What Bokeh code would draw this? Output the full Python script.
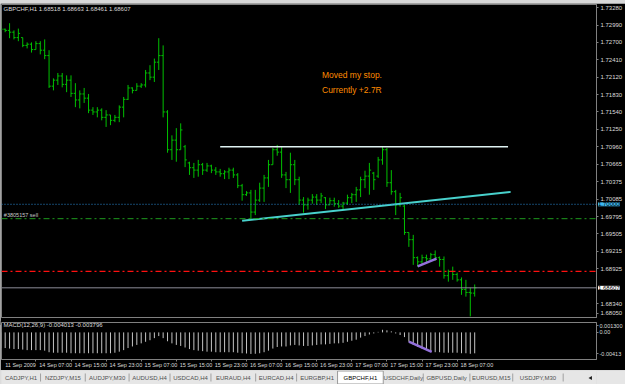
from bokeh.plotting import figure
from bokeh.models import Range1d, FixedTicker, NumeralTickFormatter, Span, Label, ColumnDataSource
from bokeh.layouts import column
from bokeh.embed import file_html
from bokeh.resources import INLINE
from bokeh.core.properties import value

# ---------------- data ----------------
symbol = "GBPCHF,H1"

opens = [1.7303, 1.7292, 1.7290, 1.7287, 1.7278, 1.7278, 1.7265, 1.7267, 1.7258, 1.7268,
         1.7257, 1.7248, 1.7197, 1.7207, 1.7214, 1.7200, 1.7207, 1.7185, 1.7174, 1.7184,
         1.7177, 1.7157, 1.7154, 1.7157, 1.7145, 1.7149, 1.7140, 1.7145, 1.7162, 1.7175,
         1.7194, 1.7190, 1.7197, 1.7199, 1.7219, 1.7212, 1.7237, 1.7248, 1.7154, 1.7091,
         1.7107, 1.7091, 1.7096, 1.7069, 1.7061, 1.7057, 1.7066, 1.7057, 1.7064, 1.7057,
         1.7054, 1.7051, 1.7054, 1.7057, 1.7049, 1.7031, 1.7016, 1.7019, 1.6987, 1.7007,
         1.7027, 1.7044, 1.7066, 1.7091, 1.7087, 1.7049, 1.7041, 1.7066, 1.7041, 1.7007,
         1.6999, 1.7007, 1.7012, 1.7007, 1.7011, 1.6999, 1.7006, 1.7001, 1.6997, 1.7002,
         1.7011, 1.7016, 1.7024, 1.7041, 1.7047, 1.7052, 1.7047, 1.7074, 1.7091, 1.7036,
         1.7021, 1.6999, 1.6997, 1.6953, 1.6941, 1.6911, 1.6904, 1.6911, 1.6909, 1.6916,
         1.6911, 1.6908, 1.6881, 1.6888, 1.6883, 1.6874, 1.6858, 1.6853, 1.68518]
highs = [1.7307, 1.7293, 1.7302, 1.7290, 1.7293, 1.7278, 1.7270, 1.7270, 1.7272, 1.7272,
         1.7275, 1.7257, 1.7210, 1.7219, 1.7219, 1.7215, 1.7215, 1.7202, 1.7190, 1.7194,
         1.7184, 1.7162, 1.7162, 1.7160, 1.7157, 1.7149, 1.7149, 1.7165, 1.7179, 1.7199,
         1.7195, 1.7202, 1.7202, 1.7224, 1.7232, 1.7243, 1.7277, 1.7265, 1.7157, 1.7115,
         1.7127, 1.7135, 1.7099, 1.7071, 1.7069, 1.7074, 1.7069, 1.7069, 1.7066, 1.7062,
         1.7059, 1.7057, 1.7061, 1.7061, 1.7052, 1.7034, 1.7022, 1.7024, 1.7024, 1.7036,
         1.7049, 1.7074, 1.7094, 1.7099, 1.7096, 1.7054, 1.7086, 1.7074, 1.7046, 1.7012,
         1.7011, 1.7017, 1.7017, 1.7019, 1.7012, 1.7011, 1.7011, 1.7007, 1.7004, 1.7016,
         1.7019, 1.7029, 1.7046, 1.7056, 1.7069, 1.7054, 1.7079, 1.7097, 1.7094, 1.7057,
         1.7024, 1.7019, 1.6999, 1.6953, 1.6949, 1.6913, 1.6916, 1.6916, 1.6919, 1.6923,
         1.6913, 1.6913, 1.6891, 1.6896, 1.6886, 1.6878, 1.6874, 1.6861, 1.68663]
lows = [1.7288, 1.7287, 1.7277, 1.7275, 1.7272, 1.7262, 1.7260, 1.7253, 1.7258, 1.7250,
        1.7242, 1.7194, 1.7190, 1.7199, 1.7195, 1.7187, 1.7179, 1.7162, 1.7160, 1.7169,
        1.7152, 1.7149, 1.7145, 1.7140, 1.7129, 1.7132, 1.7137, 1.7137, 1.7145, 1.7174,
        1.7185, 1.7190, 1.7194, 1.7195, 1.7207, 1.7204, 1.7224, 1.7145, 1.7086, 1.7074,
        1.7071, 1.7091, 1.7062, 1.7049, 1.7044, 1.7046, 1.7049, 1.7054, 1.7052, 1.7049,
        1.7046, 1.7042, 1.7042, 1.7044, 1.7027, 1.7006, 1.7014, 1.6974, 1.6982, 1.7004,
        1.7004, 1.7029, 1.7066, 1.7081, 1.7044, 1.7027, 1.7019, 1.7032, 1.6999, 1.6986,
        1.6991, 1.7001, 1.6999, 1.7002, 1.6992, 1.6999, 1.6996, 1.6994, 1.6991, 1.6999,
        1.7002, 1.7004, 1.7012, 1.7027, 1.7016, 1.7024, 1.7044, 1.7066, 1.7029, 1.7016,
        1.6982, 1.6996, 1.6949, 1.6929, 1.6899, 1.6896, 1.6899, 1.6903, 1.6904, 1.6906,
        1.6896, 1.6876, 1.6871, 1.6874, 1.6871, 1.6849, 1.6846, 1.6813, 1.68461]
closes = [1.7292, 1.7290, 1.7287, 1.7278, 1.7285, 1.7265, 1.7267, 1.7258, 1.7268, 1.7257,
          1.7248, 1.7197, 1.7207, 1.7214, 1.7200, 1.7207, 1.7185, 1.7174, 1.7184, 1.7177,
          1.7157, 1.7154, 1.7157, 1.7145, 1.7149, 1.7140, 1.7145, 1.7162, 1.7175, 1.7194,
          1.7190, 1.7197, 1.7199, 1.7219, 1.7212, 1.7237, 1.7248, 1.7154, 1.7091, 1.7107,
          1.7091, 1.7124, 1.7074, 1.7061, 1.7057, 1.7066, 1.7057, 1.7064, 1.7057, 1.7054,
          1.7051, 1.7054, 1.7057, 1.7049, 1.7031, 1.7016, 1.7019, 1.6987, 1.7007, 1.7027,
          1.7044, 1.7066, 1.7091, 1.7087, 1.7049, 1.7041, 1.7066, 1.7041, 1.7007, 1.6999,
          1.7007, 1.7012, 1.7007, 1.7014, 1.6999, 1.7006, 1.7001, 1.6997, 1.7002, 1.7011,
          1.7016, 1.7024, 1.7041, 1.7047, 1.7057, 1.7041, 1.7074, 1.7091, 1.7036, 1.7021,
          1.6999, 1.7011, 1.6953, 1.6941, 1.6911, 1.6904, 1.6911, 1.6909, 1.6916, 1.6911,
          1.6908, 1.6881, 1.6888, 1.6883, 1.6874, 1.6858, 1.6853, 1.6852, 1.68607]

macd_main = [-0.0030, -0.0030, -0.0031, -0.0032, -0.0032, -0.0033, -0.0034, -0.0034, -0.0034, -0.0034,
             -0.0035, -0.0038, -0.0039, -0.0039, -0.0039, -0.0039, -0.0040, -0.0040, -0.0040, -0.0040,
             -0.0040, -0.0040, -0.0040, -0.0040, -0.0040, -0.0040, -0.0039, -0.0037, -0.0034, -0.0030,
             -0.0027, -0.0024, -0.0021, -0.0018, -0.0015, -0.0011, -0.0007, -0.0011, -0.0017, -0.0021,
             -0.0024, -0.0026, -0.0029, -0.0032, -0.0034, -0.0035, -0.0036, -0.0037, -0.0037, -0.0038,
             -0.0038, -0.0038, -0.0038, -0.0038, -0.0039, -0.0040, -0.00405, -0.00413, -0.0041, -0.0040,
             -0.0038, -0.0035, -0.0031, -0.0028, -0.0027, -0.0027, -0.0025, -0.0024, -0.0025, -0.0026,
             -0.0026, -0.0025, -0.0024, -0.0023, -0.0023, -0.0022, -0.0021, -0.0021, -0.0020, -0.0018,
             -0.0016, -0.0014, -0.0010, -0.0007, -0.0004, -0.0002, 0.0001, 0.0005, 0.0004, 0.0002,
             -0.0002, -0.0005, -0.0009, -0.0018, -0.0024, -0.0028, -0.0031, -0.0034, -0.0037, -0.0038,
             -0.0038, -0.0039, -0.0039, -0.0039, -0.0039, -0.0040, -0.0040, -0.0041, -0.004013]
macd_last = -0.004013
signal_last = -0.003796

time_tick_bars = [0, 8, 16, 24, 32, 40, 48, 56, 64, 72, 80, 88, 96, 104]
time_tick_labels = ["11 Sep 2009", "14 Sep 07:00", "14 Sep 15:00", "14 Sep 23:00", "15 Sep 07:00",
                    "15 Sep 15:00", "15 Sep 23:00", "16 Sep 07:00", "16 Sep 15:00", "16 Sep 23:00",
                    "17 Sep 07:00", "17 Sep 15:00", "17 Sep 23:00", "18 Sep 07:00"]

price_ticks = [1.7328, 1.7299, 1.7270, 1.7241, 1.7212, 1.7183, 1.7154, 1.7125, 1.7096,
               1.70665, 1.70375, 1.70085, 1.69795, 1.69505, 1.69215, 1.68925, 1.6834]
bottom_tick, bottom_tick_label = 1.6818, "1.68050"
macd_ticks = [0.0013, 0, -0.00413]
macd_tick_labels = ["0.001300", "0.00", "-0.00413"]

level_blue = 1.70000
order_open = 1.6976
order_text = "#3805157 sell"
stop_loss = 1.6888
bid = closes[-1]

resist_x = [50.0, 115.6]
resist_y = [1.7096, 1.7096]
support_x = [55.0, 116.2]
support_y = [1.69725, 1.70207]
purple_x = [95.0, 99.3]
purple_y = [1.68965, 1.69093]
purple_macd_x = [93.0, 98.2]
purple_macd_y = [-0.00177, -0.00373]

note_lines = ["Moved my stop.", "Currently +2.7R"]
note_x = [73.2, 73.2]
note_y = [1.72152, 1.71903]

tab_names = ["CADJPY,H1", "NZDJPY,M15", "AUDJPY,M30", "AUDUSD,H4", "USDCAD,H4", "EURAUD,H4",
             "EURCAD,H4", "EURGBP,H1", "GBPCHF,H1", "USDCHF,Daily", "GBPUSD,Daily",
             "EURUSD,M15", "USDJPY,M30"]
active_tab = "GBPCHF,H1"

# ---------------- layout constants ----------------
W = 625
LEFT, RIGHT = 1, 26
FRAME_W = W - LEFT - RIGHT
BAR_PX = 4.41
X0 = 0.16
FONT = "Liberation Sans"
AX_COL = "#808080"
TXT_COL = "#dcdcdc"
BAR_COL = "#00c000"
BOX_PANEL = 7       # height of the (hidden) panel that hosts the two price boxes
tab_edges = [0, 41, 88, 134, 177, 220, 267, 310, 353, 401, 443, 492, 537, 590]

xr = Range1d(X0, X0 + FRAME_W / BAR_PX)
idx = list(range(len(closes)))
src = ColumnDataSource(dict(i=idx, il=[k - 0.4 for k in idx], ir=[k + 0.4 for k in idx],
                            o=opens, h=highs, l=lows, c=closes))

# ---------------- main price chart ----------------
MAIN_TOP = 1
FRAME_H = 314
MAIN_H = MAIN_TOP + FRAME_H + BOX_PANEL
main = figure(width=W, height=MAIN_H, x_range=xr, y_range=Range1d(1.68112, 1.73332),
              x_axis_location=None, y_axis_location="right", output_backend="svg",
              toolbar_location=None, min_border_left=LEFT, min_border_right=RIGHT,
              min_border_top=MAIN_TOP, min_border_bottom=2,
              background_fill_color="#000000", border_fill_color="#000000",
              outline_line_color=AX_COL)
main.margin = (3, 0, 0, 0)
main.grid.visible = False
ax = main.yaxis[0]
ax.ticker = FixedTicker(ticks=price_ticks + [bottom_tick])
ax.formatter = NumeralTickFormatter(format="0.00000")
ax.major_label_overrides = {bottom_tick: bottom_tick_label}
ax.major_label_text_font = FONT
ax.major_label_text_font_size = "6px"
ax.major_label_text_color = TXT_COL
ax.major_label_standoff = 2
ax.major_tick_out = 2
ax.major_tick_in = 0
ax.minor_tick_out = 0
ax.minor_tick_in = 0
ax.axis_line_color = AX_COL
ax.major_tick_line_color = AX_COL

# horizontal levels
main.add_layout(Span(location=level_blue, dimension="width", line_color="#2a8ad4",
                     line_dash="1 2", line_width=1))
main.add_layout(Span(location=order_open, dimension="width", line_color="#1e9a1e",
                     line_dash="6 3 2 3", line_width=1))
main.add_layout(Span(location=stop_loss, dimension="width", line_color="#ff1010",
                     line_dash="6 3 2 3", line_width=1.2))
main.add_layout(Span(location=bid, dimension="width", line_color="#8c8c98", line_width=1))

# OHLC bars
main.segment(x0="i", y0="l", x1="i", y1="h", source=src, line_color=BAR_COL, line_width=1)
main.segment(x0="il", y0="o", x1="i", y1="o", source=src, line_color=BAR_COL, line_width=1)
main.segment(x0="i", y0="c", x1="ir", y1="c", source=src, line_color=BAR_COL, line_width=1)

# drawn objects
main.line(resist_x, resist_y, line_color="#dff2f2", line_width=1.5)
main.line(support_x, support_y, line_color="#48d1cc", line_width=2)
main.line(purple_x, purple_y, line_color="#9370db", line_width=2.5)

main.text(x=note_x, y=note_y, text=note_lines, text_color="#ff8c00",
          text_font=value(FONT), text_font_size="8.5px", text_baseline="middle", text_align="left")
main.text(x=[0.7], y=[order_open], text=[order_text], text_color="#c8c8c8",
          text_font=value(FONT), text_font_size="5.5px", text_baseline="bottom",
          text_align="left", y_offset=-1)

title_txt = f"{symbol}  {opens[-1]:.5f} {highs[-1]:.5f} {lows[-1]:.5f} {closes[-1]:.5f}"
main.add_layout(Label(x=2, y=FRAME_H - 2, x_units="screen", y_units="screen", text=title_txt,
                      text_font=FONT, text_font_size="6px", text_color=TXT_COL,
                      text_baseline="top", text_align="left"))

# highlighted price boxes on the price scale: hosted in the bottom side panel (not clipped),
# positioned through the data scales; the panel itself is covered by the MACD window
x_box = xr.end + 1.5 / BAR_PX
for val, bg in [(level_blue, "#3db8f2"), (bid, "#ffffff")]:
    main.add_layout(Label(x=x_box, y=val, x_units="data", y_units="data",
                          text=f"{val:.5f}", text_font=FONT, text_font_size="6px",
                          text_color="#000000", background_fill_color=bg,
                          text_baseline="middle", text_align="left"), "below")

# ---------------- MACD sub-window ----------------
msrc = ColumnDataSource(dict(i=idx, z=[0.0] * len(idx), m=macd_main))
MACD_H = 50
macd = figure(width=W, height=MACD_H, x_range=xr, y_range=Range1d(-0.0052, 0.0019),
              y_axis_location="right", output_backend="svg", toolbar_location=None,
              min_border_left=LEFT, min_border_right=RIGHT, min_border_top=2, min_border_bottom=0,
              background_fill_color="#000000", border_fill_color="#000000",
              outline_line_color=AX_COL)
macd.margin = (2 - BOX_PANEL, 0, 0, 0)
macd.grid.visible = False
macd.segment(x0="i", y0="z", x1="i", y1="m", source=msrc, line_color="#c4c4c4", line_width=1)
macd.line(purple_macd_x, purple_macd_y, line_color="#9370db", line_width=2.5)
macd.add_layout(Label(x=2, y=38, x_units="screen", y_units="screen",
                      text=f"MACD(12,26,9) {macd_last:.6f} {signal_last:.6f}",
                      text_font=FONT, text_font_size="6px", text_color=TXT_COL,
                      text_baseline="top", text_align="left"))
my = macd.yaxis[0]
my.ticker = FixedTicker(ticks=macd_ticks)
my.major_label_overrides = {t: s for t, s in zip(macd_ticks, macd_tick_labels)}
my.major_label_text_font = FONT
my.major_label_text_font_size = "5.5px"
my.major_label_text_color = TXT_COL
my.major_label_standoff = 1
my.major_tick_out = 2
my.major_tick_in = 0
my.axis_line_color = AX_COL
my.major_tick_line_color = AX_COL

mx = macd.xaxis[0]
label_shift = 4.5
mx.ticker = FixedTicker(ticks=[b + label_shift for b in time_tick_bars], minor_ticks=time_tick_bars)
mx.major_label_overrides = {b + label_shift: s for b, s in zip(time_tick_bars, time_tick_labels)}
mx.major_label_text_font = FONT
mx.major_label_text_font_size = "5.5px"
mx.major_label_text_color = TXT_COL
mx.major_label_standoff = 0
mx.major_tick_out = 0
mx.major_tick_in = 0
mx.minor_tick_out = 2
mx.minor_tick_in = 0
mx.minor_tick_line_color = AX_COL
mx.axis_line_color = None

# ---------------- tab bar ----------------
TAB_BG = "#e6e6e6"
tabs = figure(width=W, height=14, x_range=Range1d(0, W), y_range=Range1d(0, 14),
              x_axis_location=None, y_axis_location=None, output_backend="svg",
              toolbar_location=None, min_border=0, background_fill_color=TAB_BG,
              border_fill_color=TAB_BG, outline_line_color=None)
tabs.grid.visible = False
k_act = tab_names.index(active_tab)
tabs.quad(left=[tab_edges[k_act]], right=[tab_edges[k_act + 1]], bottom=[0.5], top=[13.5],
          fill_color="#ffffff", line_color="#9a9a9a", line_width=1)
sep_x = [e for j, e in enumerate(tab_edges[1:], start=1) if j not in (k_act, k_act + 1)]
tabs.segment(x0=sep_x, y0=[3] * len(sep_x), x1=sep_x, y1=[11] * len(sep_x),
             line_color="#a0a0a0", line_width=1)
centers = [(tab_edges[j] + tab_edges[j + 1]) / 2 for j in range(len(tab_names))]
colors = ["#000000" if n == active_tab else "#505050" for n in tab_names]
tabs.text(x=centers, y=[6.5] * len(centers), text=tab_names, text_color=colors,
          text_font=value(FONT), text_font_size="6px", text_align="center", text_baseline="middle")
tabs.scatter(x=[619], y=[6.5], marker="triangle", angle=1.5708, size=4,
             fill_color="#202020", line_color=None)

layout = column(main, macd, tabs, spacing=0)

html = file_html(layout, INLINE, title="GBPCHF,H1")
html = html.replace("<head>", "<head><style>html,body{margin:0;padding:0;overflow:hidden;"
                              "background:#d8d8d8;}</style>", 1)
open("out.html", "w").write(html)
